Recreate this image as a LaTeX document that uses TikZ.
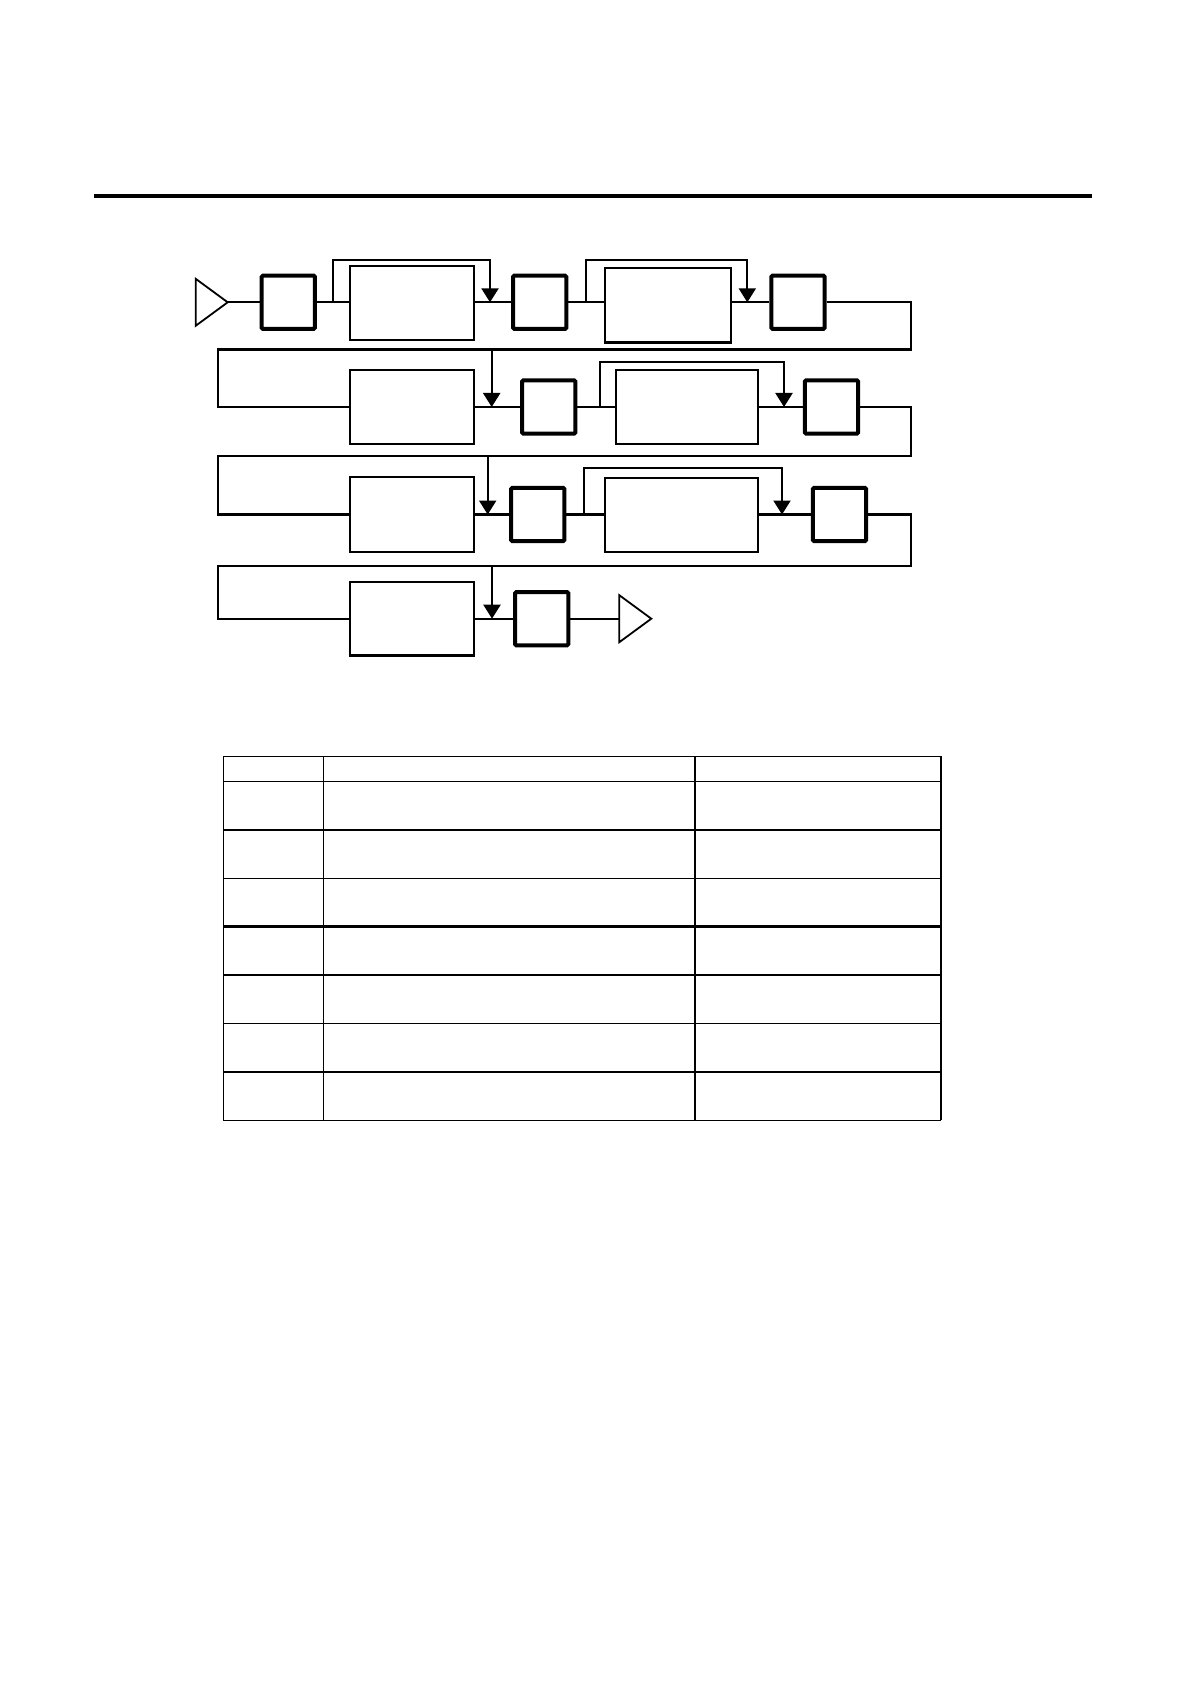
\documentclass[tikz,border=0pt]{standalone}
\usetikzlibrary{arrows.meta}

\tikzset{
  blk/.style={draw, line width=1.1pt, minimum width=62pt, minimum height=36.8pt, inner sep=0pt},
  reg/.style={draw, line width=2pt, minimum width=26.6pt, minimum height=26.6pt, inner sep=0pt, rounded corners=0.6pt},
  flow/.style={line width=1.1pt},
  tap/.style={line width=1.1pt, -{Triangle[length=7pt,width=8.5pt]}},
  cell/.style={line width=0.65pt},
}

\begin{document}
\begin{tikzpicture}[x=0.50pt,y=0.50pt,yscale=-1,xscale=1]
\useasboundingbox (0,0) rectangle (1190,1684);

%Straight Lines
\draw [line width=1.9pt] (94.4,196.4) -- (1092,196.4) ;

% Row 1
\coordinate (src) at (227.7,302.3);
\draw [line width=0.9pt] (src) -- ++(-32,-23.5) -- ++(0,47) -- cycle ;
\node [reg] (b1) at (288.3,302.3) {};
\node [blk] (B1) at (412,303) {};
\node [reg] (b2) at (539.7,302.3) {};
\node [blk, minimum width=63.2pt, minimum height=37.2pt] (B2) at (667.8,305.3) {};
\node [reg] (b3) at (798,302.3) {};
\coordinate (k1) at (332.7,302.3);
\coordinate (j1) at (490,302.3);
\coordinate (k2) at (586,302.3);
\coordinate (j2) at (747.3,302.3);

\draw [flow] (src) -- (b1.west) ;
\draw [flow] (b1.east) -- (b1.east -| B1.west) ;
\draw [flow] (b2.west -| B1.east) -- (b2.west) ;
\draw [flow] (b2.east) -- (b2.east -| B2.west) ;
\draw [flow] (b3.west -| B2.east) -- (b3.west) ;
\draw [tap] (k1) -- (k1 |- 0,260) -| (j1) ;
\draw [tap] (k2) -- (k2 |- 0,260) -| (j2) ;

% Row 2
\node [blk] (B3) at (412,407) {};
\node [reg] (b4) at (548.8,407) {};
\node [blk, minimum width=71.3pt] (B4) at (687,407) {};
\node [reg] (b5) at (831.5,407) {};
\coordinate (e1) at (911.3,349.5);
\coordinate (w1) at (217.7,349.5);
\coordinate (d1) at (491.7,349.5);
\coordinate (k3) at (600,407);
\coordinate (j3) at (784,407);

\draw [flow] (b3.east) -| (e1) -- (w1) |- (B3.west) ;
\draw [tap] (d1) -- (d1 |- B3.east) ;
\draw [flow] (B3.east) -- (b4.west) ;
\draw [flow] (b4.east) -- (B4.west) ;
\draw [flow] (B4.east) -- (b5.west) ;
\draw [tap] (k3) -- (k3 |- 0,362) -| (j3) ;

% Row 3
\node [blk, minimum height=37.2pt] (B5) at (412,514.5) {};
\node [reg] (b6) at (537.7,514.5) {};
\node [blk, minimum width=76.8pt, minimum height=37.2pt] (B6) at (681.5,514.8) {};
\node [reg] (b7) at (839.5,514.5) {};
\coordinate (e2) at (911.3,456);
\coordinate (w2) at (217.7,456);
\coordinate (d2) at (487.7,456);
\coordinate (k4) at (584,514.5);
\coordinate (j4) at (782,514.5);

\draw [flow] (b5.east) -| (e2) -- (w2) |- (B5.west) ;
\draw [tap] (d2) -- (d2 |- B5.east) ;
\draw [flow] (B5.east) -- (b6.west) ;
\draw [flow] (b6.east) -- (b6.east -| B6.west) ;
\draw [flow] (b7.west -| B6.east) -- (b7.west) ;
\draw [tap] (k4) -- (k4 |- 0,467.7) -| (j4) ;

% Row 4
\node [blk] (B7) at (411.8,618.7) {};
\node [reg] (b8) at (541.7,618.7) {};
\coordinate (snk) at (619.3,618.7);
\coordinate (e3) at (911.3,566);
\coordinate (w3) at (217.7,566);
\coordinate (d3) at (492,566);

\draw [flow] (b7.east) -| (e3) -- (w3) |- (B7.west) ;
\draw [tap] (d3) -- (d3 |- B7.east) ;
\draw [flow] (B7.east) -- (b8.west) ;
\draw [flow] (b8.east) -- (snk) ;
\draw [line width=0.9pt] (snk) -- ++(0,-23.5) -- ++(32,23.5) -- ++(-32,23.5) -- cycle ;

% Table
\draw [cell] (941,756.3) -- (223.3,756.3) -- (223.3,1120.3) -- (941,1120.3) ;
\draw [line width=1.1pt] (941,756.3) -- (941,1120.3) ;
\draw [cell] (323.7,756.3) -- (323.7,1120.3) ;
\draw [cell] (695,756.3) -- (695,1120.3) ;
\draw [cell] (223.3,781.3) -- (941,781.3) ;
\foreach \k in {1,...,6} {
  \draw [cell] (223.3,781.3+48.43*\k) -- (941,781.3+48.43*\k) ;
}
\draw [line width=1.2pt] (223.3,829.7) -- (941,829.7) ;
\draw [line width=1.2pt] (223.3,926.6) -- (941,926.6) ;

\end{tikzpicture}
\end{document}
